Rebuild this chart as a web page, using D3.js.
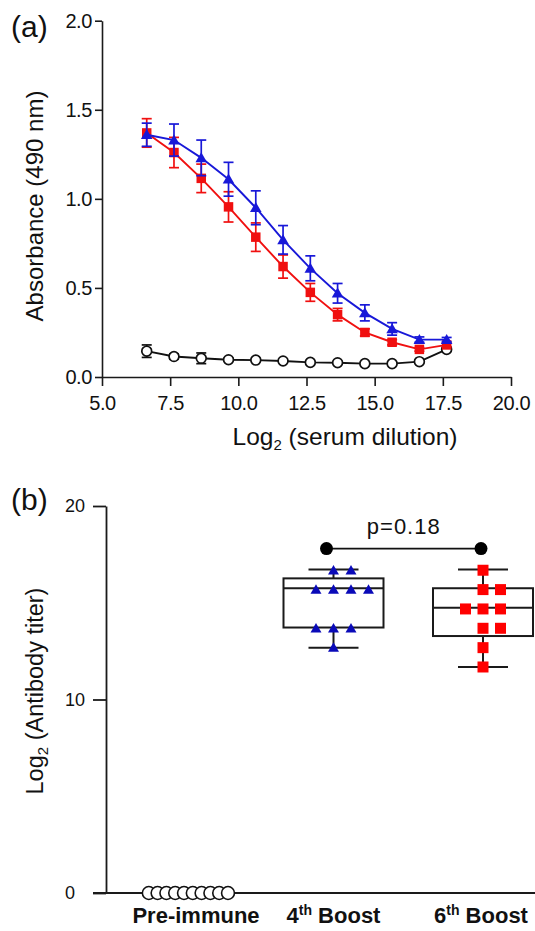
<!DOCTYPE html>
<html>
<head>
<meta charset="utf-8">
<script src="https://cdn.jsdelivr.net/npm/d3@7"></script>
<style>
  html, body { margin: 0; padding: 0; background: #fff; }
  svg { display: block; }
  text { font-family: "Liberation Sans", Arial, sans-serif; fill: #111; }
</style>
</head>
<body>
<script>
// ---------- Panel (a) data ----------
const dilutionLog2 = [6.64, 7.64, 8.64, 9.64, 10.64, 11.64, 12.64, 13.64, 14.64, 15.64, 16.64, 17.64];
const boost4Abs    = [1.36, 1.33, 1.23, 1.11, 0.95, 0.77, 0.61, 0.47, 0.36, 0.27, 0.21, 0.21];
const boost4Err    = [0.065, 0.09, 0.10, 0.095, 0.095, 0.08, 0.07, 0.055, 0.045, 0.035, 0.015, 0.012];
const boost6Abs    = [1.37, 1.26, 1.115, 0.955, 0.785, 0.62, 0.475, 0.35, 0.25, 0.195, 0.155, 0.18];
const boost6Err    = [0.08, 0.085, 0.08, 0.085, 0.08, 0.065, 0.05, 0.035, 0.02, 0.015, 0.01, 0.01];
const preAbs       = [0.145, 0.115, 0.105, 0.097, 0.095, 0.09, 0.082, 0.08, 0.075, 0.075, 0.086, 0.155];
const preErr       = [0.035, 0.015, 0.03, 0.008, 0.008, 0.008, 0.005, 0.005, 0.005, 0.005, 0.005, 0.005];
const xTicksA = [5.0, 7.5, 10.0, 12.5, 15.0, 17.5, 20.0];
const yTicksA = [0.0, 0.5, 1.0, 1.5, 2.0];

// ---------- Panel (b) data ----------
const categories = ["Pre-immune", "4th Boost", "6th Boost"];
const preTiter    = [0, 0, 0, 0, 0, 0, 0, 0, 0, 0];
const boost4Titer = [16.68, 16.68, 15.68, 15.68, 15.68, 15.68, 13.68, 13.68, 13.68, 12.68];
const boost6Titer = [16.68, 15.68, 15.68, 14.68, 14.68, 14.68, 13.68, 13.68, 12.68, 11.68];
// box statistics: [min, q1, median, q3, max]
const boost4Box = [12.68, 13.72, 15.75, 16.26, 16.72];
const boost6Box = [11.68, 13.28, 14.74, 15.75, 16.72];
const pValueText = "p=0.18";
const pBracketY = 17.8;
const yTicksB = [0, 10, 20];

const W = 535, H = 931;
const svg = d3.select("body").append("svg").attr("width", W).attr("height", H);

const axisColor = "#1a1a1a";
const redA = "#f01010", blueA = "#1818d8";
const redB = "#ff0000", blueB = "#0a0ab8";

// ================= Panel (a) =================
const xA = d3.scaleLinear().domain([5, 20]).range([102, 511]);
const yA = d3.scaleLinear().domain([0, 2]).range([377, 20.7]);

const gA = svg.append("g");

const yAxisA = gA.append("g").attr("transform", `translate(${xA(5)},0)`)
  .call(d3.axisLeft(yA).tickValues(yTicksA).tickFormat(d3.format(".1f")).tickSize(7).tickSizeOuter(0).tickPadding(3));
const xAxisA = gA.append("g").attr("transform", `translate(0,${yA(0)})`)
  .call(d3.axisBottom(xA).tickValues(xTicksA).tickFormat(d3.format(".1f")).tickSize(9).tickSizeOuter(0).tickPadding(10));
[yAxisA, xAxisA].forEach(ax => {
  ax.selectAll("path,line").attr("stroke", axisColor).attr("stroke-width", 1.6);
  ax.selectAll("text").attr("font-size", 20).attr("letter-spacing", "-0.4px")
    .attr("font-family", "'Liberation Sans', Arial, sans-serif").attr("fill", "#111");
});

// axis titles
gA.append("text").attr("transform", "translate(43,206) rotate(-90)")
  .attr("text-anchor", "middle").attr("font-size", 24).text("Absorbance (490 nm)");
const xt = gA.append("text").attr("x", 345).attr("y", 445).attr("text-anchor", "middle").attr("font-size", 24.5);
xt.append("tspan").text("Log");
xt.append("tspan").attr("font-size", 15).attr("dy", 5).text("2");
xt.append("tspan").attr("dy", -5).text(" (serum dilution)");

gA.append("text").attr("x", 11).attr("y", 37).attr("font-size", 30).text("(a)");

function drawSeries(vals, errs, color, kind) {
  const pts = dilutionLog2.map((x, i) => ({x, y: vals[i], e: errs[i]}));
  const g = gA.append("g");
  // error bars
  const eb = g.selectAll(".eb").data(pts).join("g");
  eb.append("line").attr("x1", d => xA(d.x)).attr("x2", d => xA(d.x))
    .attr("y1", d => yA(d.y - d.e)).attr("y2", d => yA(d.y + d.e))
    .attr("stroke", color).attr("stroke-width", 1.7);
  [1, -1].forEach(s => {
    eb.append("line").attr("x1", d => xA(d.x) - 5).attr("x2", d => xA(d.x) + 5)
      .attr("y1", d => yA(d.y + s * d.e)).attr("y2", d => yA(d.y + s * d.e))
      .attr("stroke", color).attr("stroke-width", 1.7);
  });
  // line
  g.append("path").datum(pts)
    .attr("d", d3.line().x(d => xA(d.x)).y(d => yA(d.y)))
    .attr("fill", "none").attr("stroke", color).attr("stroke-width", 1.9);
  // markers
  const sym = kind === "square" ? d3.symbol(d3.symbolSquare, 90)
            : kind === "triangle" ? d3.symbol(d3.symbolTriangle, 58)
            : d3.symbol(d3.symbolCircle, 76);
  g.selectAll(".m").data(pts).join("path")
    .attr("transform", d => `translate(${xA(d.x)},${yA(d.y) + (kind === "triangle" ? 1 : 0)})`)
    .attr("d", sym)
    .attr("fill", kind === "circle" ? "#fff" : color)
    .attr("stroke", kind === "circle" ? "#111" : "none")
    .attr("stroke-width", 1.7);
}
drawSeries(preAbs, preErr, "#111", "circle");
drawSeries(boost6Abs, boost6Err, redA, "square");
drawSeries(boost4Abs, boost4Err, blueA, "triangle");

// ================= Panel (b) =================
const xB = d3.scalePoint().domain(categories).range([184, 483]);
const yB = d3.scaleLinear().domain([0, 20]).range([893, 506]);
const gB = svg.append("g");

const yAxisB = gB.append("g").attr("transform", "translate(106,0)")
  .call(d3.axisLeft(yB).tickValues(yTicksB).tickFormat(d3.format("d")).tickSize(13).tickSizeOuter(0));
yAxisB.selectAll("path,line").attr("stroke", axisColor).attr("stroke-width", 1.8);
yAxisB.selectAll("text").attr("font-size", 18).attr("text-anchor", "start").attr("x", -41)
  .attr("font-family", "'Liberation Sans', Arial, sans-serif").attr("fill", "#111");

// baseline (x axis)
gB.append("line").attr("x1", 93).attr("x2", W).attr("y1", yB(0)).attr("y2", yB(0))
  .attr("stroke", axisColor).attr("stroke-width", 1.8);

// category labels
const labelDx = [12, 0, -2];
categories.forEach((c, i) => {
  const t = gB.append("text").attr("x", xB(c) + labelDx[i]).attr("y", 923)
    .attr("text-anchor", "middle").attr("font-size", 22).attr("font-weight", "bold")
    .attr("font-family", "Lato, 'Open Sans', sans-serif");
  const m = c.match(/^(\d)(th)(.*)$/);
  if (m) {
    t.append("tspan").text(m[1]);
    t.append("tspan").attr("font-size", 14).attr("dy", -8).text(m[2]);
    t.append("tspan").attr("dy", 8).text(m[3]);
  } else t.text(c);
});

gB.append("text").attr("transform", "translate(43,691) rotate(-90)")
  .attr("text-anchor", "middle").attr("font-size", 23.5)
  .call(t => {
    t.append("tspan").text("Log");
    t.append("tspan").attr("font-size", 15).attr("dy", 5).text("2");
    t.append("tspan").attr("dy", -5).text(" (Antibody titer)");
  });
gB.append("text").attr("x", 11).attr("y", 510).attr("font-size", 30).text("(b)");

// boxes
function drawBox(cat, st) {
  const cx = xB(cat), half = 50, cap = 25;
  const g = gB.append("g").attr("stroke", "#1a1a1a").attr("stroke-width", 2).attr("fill", "none");
  g.append("line").attr("x1", cx).attr("x2", cx).attr("y1", yB(st[0])).attr("y2", yB(st[1]));
  g.append("line").attr("x1", cx).attr("x2", cx).attr("y1", yB(st[3])).attr("y2", yB(st[4]));
  g.append("line").attr("x1", cx - cap).attr("x2", cx + cap).attr("y1", yB(st[0])).attr("y2", yB(st[0]));
  g.append("line").attr("x1", cx - cap).attr("x2", cx + cap).attr("y1", yB(st[4])).attr("y2", yB(st[4]));
  g.append("rect").attr("x", cx - half).attr("width", 2 * half)
    .attr("y", yB(st[3])).attr("height", yB(st[1]) - yB(st[3]));
  g.append("line").attr("x1", cx - half).attr("x2", cx + half).attr("y1", yB(st[2])).attr("y2", yB(st[2]));
}
drawBox("4th Boost", boost4Box);
drawBox("6th Boost", boost6Box);

// scatter with row spreading
function spread(vals, step) {
  const groups = d3.group(vals.map((v, i) => ({v, i})), d => d.v);
  const out = [];
  groups.forEach(arr => {
    const n = arr.length, k = Math.floor((n - 1) / 2);
    arr.forEach((d, j) => out.push({v: d.v, off: (j - k) * step}));
  });
  return out;
}
function drawPoints(cat, vals, kind, color, step) {
  const pts = spread(vals, step);
  const sym = kind === "square" ? d3.symbol(d3.symbolSquare, 121)
            : kind === "triangle" ? d3.symbol(d3.symbolTriangle, 52)
            : d3.symbol(d3.symbolCircle, 130);
  gB.append("g").selectAll("path").data(pts).join("path")
    .attr("transform", d => `translate(${xB(cat) + d.off},${yB(d.v) + (kind === "triangle" ? 1 : 0)})`)
    .attr("d", sym)
    .attr("fill", kind === "circle" ? "#fff" : color)
    .attr("stroke", kind === "circle" ? "#111" : "none")
    .attr("stroke-width", 1.6);
}
drawPoints("Pre-immune", preTiter, "circle", "#111", 8.8);
drawPoints("4th Boost", boost4Titer, "triangle", blueB, 17.5);
drawPoints("6th Boost", boost6Titer, "square", redB, 17.5);

// p-value bracket
const bx1 = xB("4th Boost") - 7, bx2 = xB("6th Boost") - 2, by = yB(pBracketY);
gB.append("line").attr("x1", bx1).attr("x2", bx2).attr("y1", by).attr("y2", by)
  .attr("stroke", "#111").attr("stroke-width", 1.8);
gB.selectAll(".pd").data([bx1, bx2]).join("circle")
  .attr("cx", d => d).attr("cy", by).attr("r", 6.5).attr("fill", "#000");
gB.append("text").attr("x", (bx1 + bx2) / 2).attr("y", by - 15)
  .attr("text-anchor", "middle").attr("font-size", 22).attr("letter-spacing", "1px").text(pValueText);
</script>
</body>
</html>
